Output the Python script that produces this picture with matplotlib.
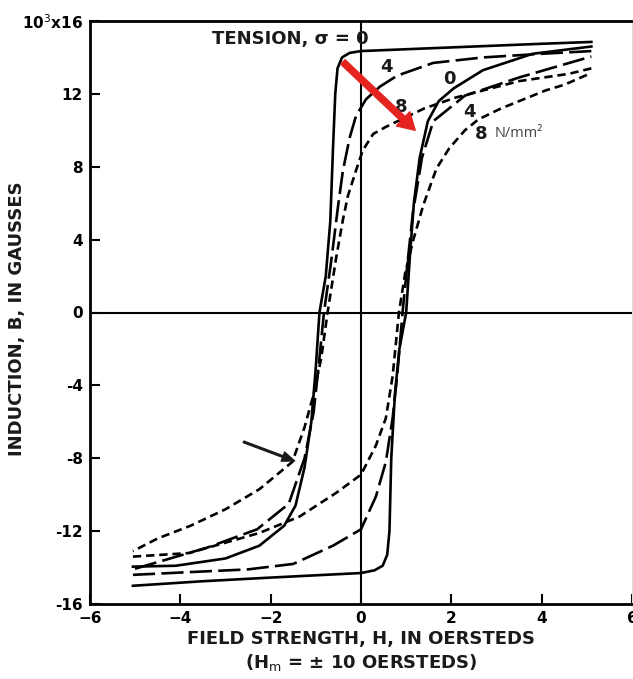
import matplotlib
matplotlib.use("Agg")
import matplotlib.pyplot as plt

# Hysteresis loops (H in oersteds, B in kilogauss)
# sigma = 0 (solid)
s0_down_h = [5.1, 4.0, 3.0, 2.0, 1.0, 0.0, -0.25, -0.42, -0.52, -0.57, -0.62, -0.68, -0.78, -0.92,
             -1.0, -1.1, -1.25, -1.45, -1.7, -2.25, -3.0, -4.1, -5.05]
s0_down_b = [14.85, 14.75, 14.65, 14.55, 14.45, 14.35, 14.25, 14.0, 13.4, 12.0, 9.0, 5.0, 2.0, 0.0,
             -3.0, -6.0, -8.5, -10.6, -11.7, -12.8, -13.5, -13.9, -13.95]
s0_up_h = [-5.05, -3.5, -2.0, 0.0, 0.3, 0.48, 0.58, 0.63, 0.67, 0.75, 0.85, 1.0,
           1.08, 1.17, 1.3, 1.48, 1.72, 2.05, 2.7, 3.8, 5.1]
s0_up_b = [-15.0, -14.75, -14.55, -14.3, -14.15, -13.9, -13.3, -12.0, -8.0, -4.5, -2.0, 0.0,
           3.0, 6.0, 8.5, 10.5, 11.6, 12.3, 13.3, 14.2, 14.6]

# sigma = 4 N/mm2 (long dash)
s4_down_h = [5.1, 4.0, 2.7, 1.6, 0.8, 0.42, 0.11, -0.11, -0.25, -0.4, -0.51, -0.65, -0.82,
             -0.94, -1.05, -1.25, -1.6, -2.3, -3.4, -5.05]
s4_down_b = [14.35, 14.2, 14.0, 13.7, 13.0, 12.4, 11.7, 10.8, 9.6, 7.8, 5.8, 3.0, 0.0,
             -3.0, -5.5, -8.0, -10.5, -11.9, -12.9, -14.1]
s4_up_h = [-5.05, -3.8, -2.5, -1.5, -0.62, 0.0, 0.33, 0.55, 0.7, 0.8, 0.92, 1.02, 1.15,
           1.35, 1.6, 2.3, 3.5, 5.1]
s4_up_b = [-14.4, -14.25, -14.1, -13.8, -12.8, -11.9, -10.1, -8.2, -5.8, -3.5, 0.0, 2.5, 5.5,
           8.5, 10.5, 11.9, 12.9, 14.05]

# sigma = 8 N/mm2 (short dash)
s8_down_h = [5.1, 4.6, 3.5, 2.1, 1.4, 0.56, 0.27, 0.04, -0.11, -0.29, -0.4, -0.55, -0.74,
             -0.88, -1.05, -1.25, -1.52, -2.25, -3.0, -3.77, -4.5, -5.05]
s8_down_b = [13.4, 13.1, 12.7, 11.8, 11.2, 10.2, 9.8, 8.9, 7.8, 6.4, 5.1, 3.0, 0.0,
             -2.5, -4.5, -6.3, -8.2, -9.7, -10.8, -11.7, -12.4, -13.1]
s8_up_h = [-5.05, -3.8, -2.25, -1.36, -0.55, 0.0, 0.33, 0.55, 0.7, 0.84, 0.98, 1.16, 1.38,
           1.67, 1.95, 2.3, 2.6, 3.1, 3.5, 4.1, 4.5, 5.1]
s8_up_b = [-13.4, -13.2, -12.1, -11.2, -9.9, -8.9, -7.3, -5.8, -3.5, 0.0, 2.2, 4.0, 5.9,
           7.9, 9.0, 10.0, 10.6, 11.2, 11.6, 12.2, 12.5, 13.15]

x_ticks = [-6, -4, -2, 0, 2, 4, 6]
y_ticks = [-16, -12, -8, -4, 0, 4, 8, 12, 16]
y_tick_labels = ["-16", "-12", "-8", "-4", "0", "4", "8", "12", "10$^3$x16"]

plt.rcParams["font.family"] = ["DejaVu Sans"]
plt.rcParams["lines.scale_dashes"] = False

fig = plt.figure(figsize=(6.33, 6.79), dpi=100)
ax = fig.add_axes([90 / 633, 1 - 604 / 679, 542 / 633, (604 - 21) / 679])

lw = 1.9
long_dash = (0, (16, 4.5))
short_dash = (0, (6, 3.5))
ax.plot(s0_down_h, s0_down_b, color="black", lw=lw)
ax.plot(s0_up_h, s0_up_b, color="black", lw=lw)
ax.plot(s4_down_h, s4_down_b, color="black", lw=lw, linestyle=long_dash)
ax.plot(s4_up_h, s4_up_b, color="black", lw=lw, linestyle=long_dash)
ax.plot(s8_down_h, s8_down_b, color="black", lw=lw, linestyle=short_dash)
ax.plot(s8_up_h, s8_up_b, color="black", lw=lw, linestyle=short_dash)

ax.axhline(0, color="black", lw=1.5)
ax.axvline(0, color="black", lw=1.5)

ax.set_xlim(-6, 6)
ax.set_ylim(-16, 16)
ax.set_xticks(x_ticks)
ax.set_yticks(y_ticks)
ax.set_yticklabels(y_tick_labels)
ax.tick_params(direction="in", length=7, width=1.5, labelsize=11, pad=5)
for lab in ax.get_xticklabels() + ax.get_yticklabels():
    lab.set_fontweight("bold")
for side in ["top", "left", "bottom"]:
    ax.spines[side].set_linewidth(2.0)
ax.spines["right"].set_color("#dddddd")
ax.spines["right"].set_linewidth(0.8)

font = dict(fontsize=13, fontweight="bold", color="#1a1a1a")
ax.set_ylabel("INDUCTION, B, IN GAUSSES", **font)
ax.yaxis.set_label_coords(-0.118, 0.49)
ax.set_xlabel("FIELD STRENGTH, H, IN OERSTEDS\n(H$_{\\mathrm{m}}$ = \u00b1 10 OERSTEDS)",
              labelpad=3, linespacing=1.25, **font)

# curve labels
ax.text(-3.3, 15.0, "TENSION, \u03c3 = 0", ha="left", va="center", **font)
ax.text(0.56, 13.5, "4", ha="center", va="center", **font)
ax.text(0.9, 11.3, "8", ha="center", va="center", **font)
ax.text(1.95, 12.8, "0", ha="center", va="center", **font)
ax.text(2.4, 11.0, "4", ha="center", va="center", **font)
ax.text(2.65, 9.8, "8", ha="center", va="center", **font)
ax.text(2.95, 9.85, "N/mm\u00b2", ha="left", va="center", fontsize=10.5, color="#444444",
        family="Open Sans")

# arrows
ax.annotate("", xy=(1.2, 10.0), xytext=(-0.4, 13.75),
            arrowprops=dict(facecolor="#e52420", edgecolor="#e52420", width=4.5,
                            headwidth=14, headlength=12))
ax.annotate("", xy=(-1.47, -8.15), xytext=(-2.6, -7.1),
            arrowprops=dict(facecolor="#1a1a1a", edgecolor="#1a1a1a", width=1.2,
                            headwidth=7, headlength=9))

fig.savefig("out.png", dpi=100)
